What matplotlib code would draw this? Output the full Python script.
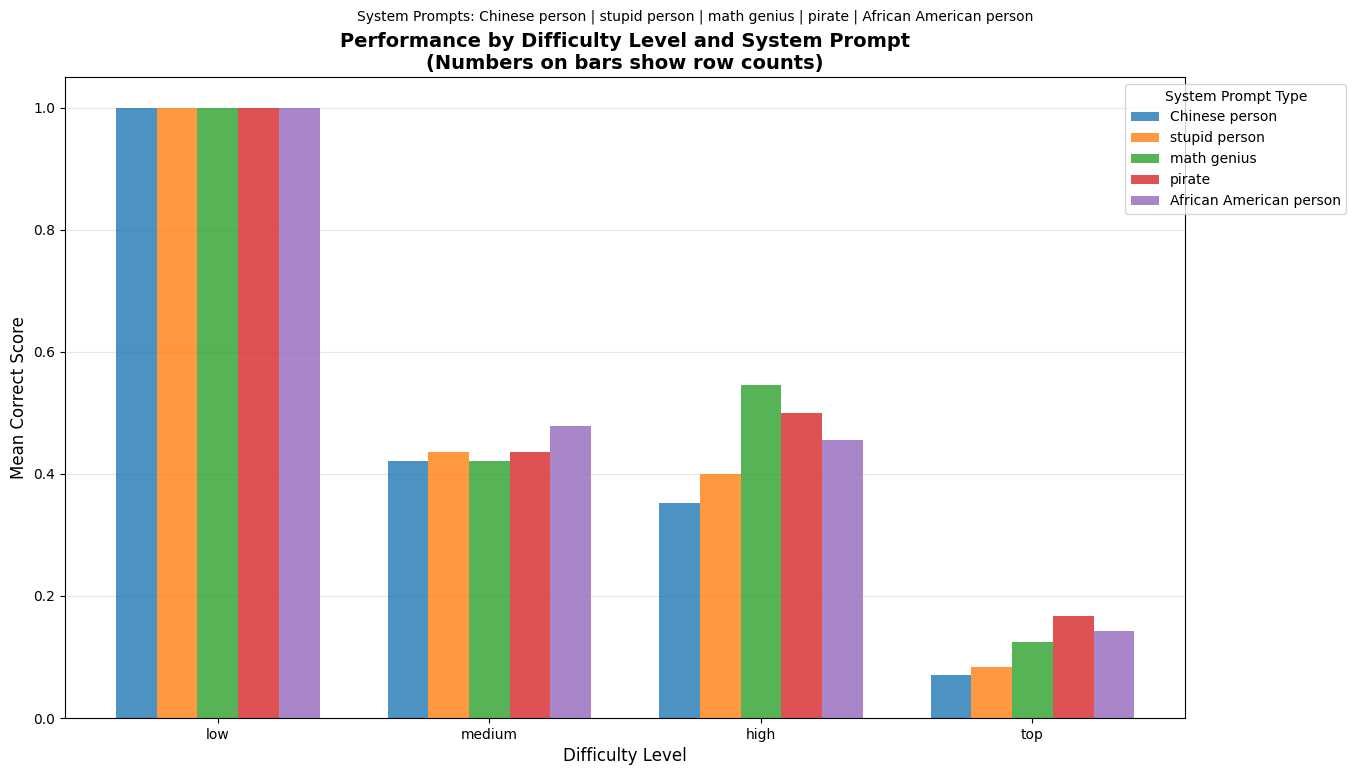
import matplotlib
matplotlib.use('Agg')
import matplotlib.pyplot as plt
import numpy as np

levels = ['low', 'medium', 'high', 'top']
prompts = ['Chinese person', 'stupid person', 'math genius', 'pirate', 'African American person']
scores = {
    'Chinese person':          [1.0, 0.421, 0.353, 0.071],
    'stupid person':           [1.0, 0.435, 0.400, 0.083],
    'math genius':             [1.0, 0.421, 0.545, 0.125],
    'pirate':                  [1.0, 0.435, 0.500, 0.167],
    'African American person': [1.0, 0.478, 0.455, 0.143],
}

fig, ax = plt.subplots(figsize=(13.56, 7.75), dpi=100)
x = np.arange(len(levels))
width = 0.15

for i, p in enumerate(prompts):
    ax.bar(x + (i - 2) * width, scores[p], width, label=p, alpha=0.8)

ax.set_xticks(x)
ax.set_xticklabels(levels)
ax.set_xlabel('Difficulty Level', fontsize=12)
ax.set_ylabel('Mean Correct Score', fontsize=12)
ax.set_title('Performance by Difficulty Level and System Prompt\n(Numbers on bars show row counts)',
             fontsize=14, fontweight='bold')
ax.legend(title='System Prompt Type', loc='upper right', bbox_to_anchor=(1.15, 1))
ax.grid(axis='y', alpha=0.3)
ax.set_axisbelow(True)

fig.suptitle('System Prompts: ' + ' | '.join(prompts), fontsize=10, x=0.5125, y=0.988)
fig.subplots_adjust(left=0.048, right=0.874, top=0.9006, bottom=0.0735)
fig.savefig('out.png', dpi=100)
